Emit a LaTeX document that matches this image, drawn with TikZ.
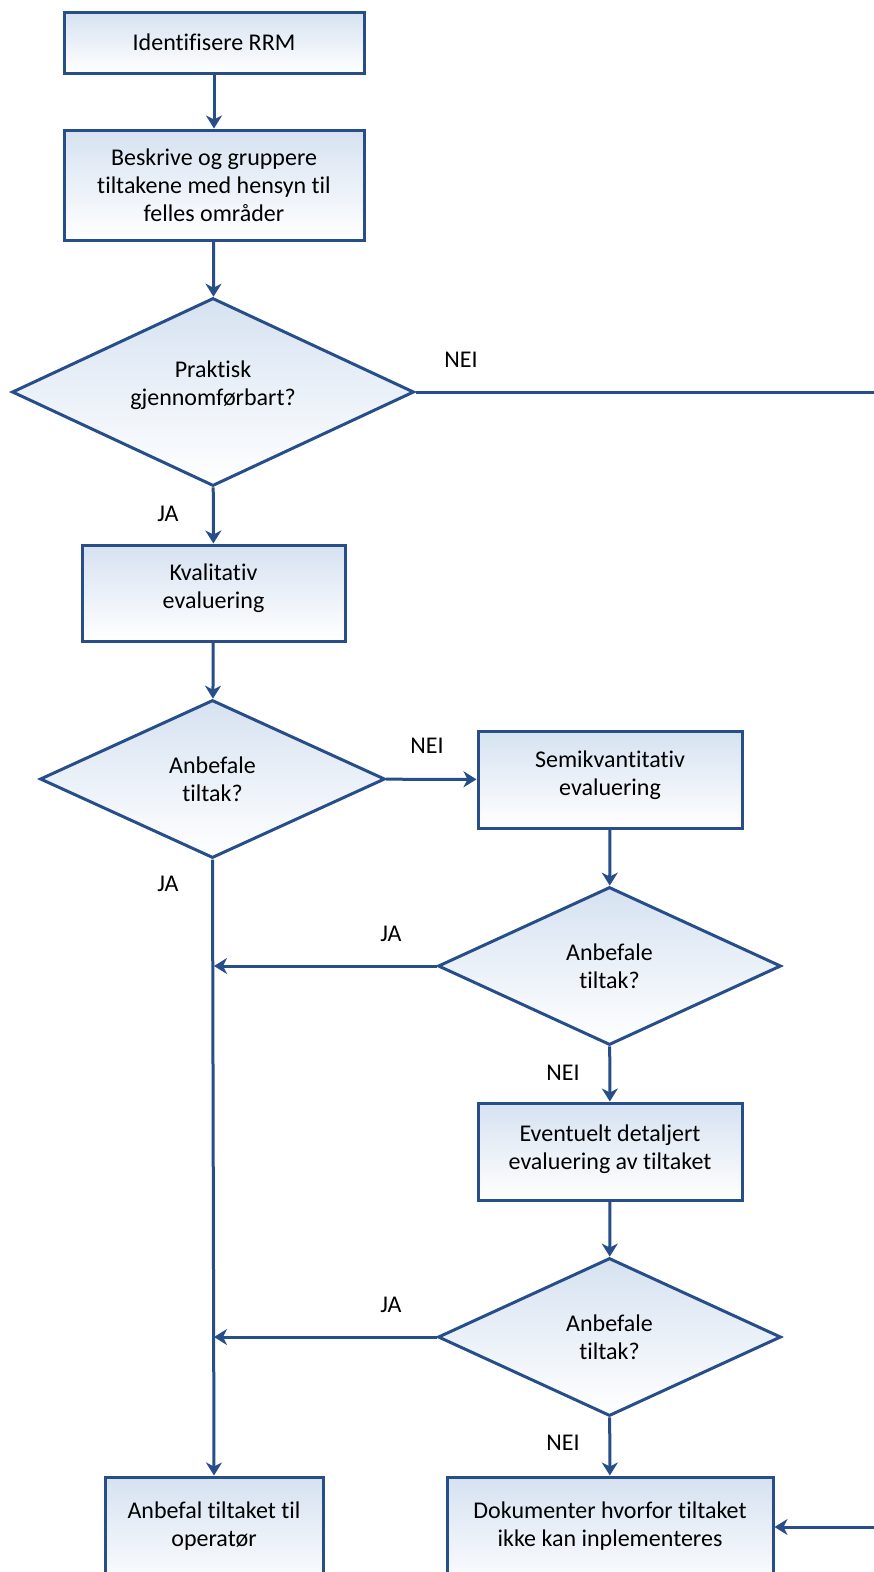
\documentclass[tikz,border=0pt]{standalone}
\usepackage{fontspec}
\setmainfont{Carlito}[Ligatures = NoCommon]
\usetikzlibrary{shapes.geometric, arrows.meta}

\definecolor{flowline}{RGB}{40,78,138}
\definecolor{flowtop}{RGB}{214,226,241}

\begin{document}
\begin{tikzpicture}[x = 1pt, y = -1pt,
    box/.style = {draw = flowline, line width = 3pt, top color = flowtop,
                  bottom color = white, align = center, inner sep = 0pt,
                  font = \fontsize{24}{28}\selectfont},
    choice/.style = {box, diamond, aspect = 2.15},
    line/.style = {draw = flowline, line width = 3pt},
    arrow/.style = {line, -{Stealth[length = 13pt, width = 16pt, inset = 4pt]}},
    answer/.style = {font = \fontsize{24}{28}\selectfont, inner sep = 0pt}]

\path[use as bounding box, clip] (0, 0) rectangle (874, 1572);

% left column
\node[box, minimum width = 300, minimum height = 61] (identify) at (214, 42.5) {Identifisere RRM};
\node[box, minimum width = 300, minimum height = 110] (describe) at (214, 185)
  {Beskrive og gruppere\\tiltakene med hensyn til\\felles områder};
\node[choice, minimum width = 402, minimum height = 188] (practical) at (213, 392)
  {Praktisk\\gjennomførbart?\\[-10pt]};
\node[box, minimum width = 263, minimum height = 96] (quality) at (213.5, 593)
  {Kvalitativ\\evaluering\\[-15pt]};
\node[choice, minimum width = 345, minimum height = 158] (choice1) at (212.5, 779)
  {Anbefale\\tiltak?};

% right column
\node[box, minimum width = 264, minimum height = 97] (semi) at (610, 779.5)
  {Semikvantitativ\\evaluering\\[-16pt]};
\node[choice, minimum width = 343, minimum height = 158] (choice2) at (609.5, 966)
  {Anbefale\\tiltak?};
\node[box, minimum width = 264, minimum height = 97] (detail) at (610, 1151.5)
  {Eventuelt detaljert\\evaluering av tiltaket\\[-20pt]};
\node[choice, minimum width = 343, minimum height = 158] (choice3) at (609.5, 1337)
  {Anbefale\\tiltak?};

% bottom row
\node[box, minimum width = 218, minimum height = 116] (recommend) at (214, 1535)
  {Anbefal tiltaket til\\operatør\\[-7pt]};
\node[box, minimum width = 326, minimum height = 116] (document) at (610, 1535)
  {Dokumenter hvorfor tiltaket\\ikke kan inplementeres\\[-7pt]};

\coordinate (outer top) at (900, 392);
\coordinate (outer bottom) at (900, 1527);

% labels
\node[answer] (no1) at (461, 360) {NEI};
\node[answer] (yes1) at (168, 514) {JA};
\node[answer] (no2) at (427, 746) {NEI};
\node[answer] (yes2) at (168, 884) {JA};
\node[answer] (yes3) at (391, 934) {JA};
\node[answer] (no3) at (563, 1073) {NEI};
\node[answer] (yes4) at (391, 1305) {JA};
\node[answer] (no4) at (563, 1443) {NEI};

% connectors
\draw[arrow] (identify) -- (describe);
\draw[arrow] (describe) -- (practical);
\draw[arrow] (practical) -- (quality);
\draw[arrow] (quality) -- (choice1);
\draw[arrow] (choice1) -- (semi);
\draw[arrow] (semi) -- (choice2);
\draw[arrow] (choice2) -- (detail);
\draw[arrow] (detail) -- (choice3);
\draw[arrow] (choice3) -- (document);
\draw[arrow] (choice1.south) -- (recommend.north);
\draw[arrow] (choice2.west) -- (choice2.west -| recommend.north);
\draw[arrow] (choice3.west) -- (choice3.west -| recommend.north);
\draw[arrow] (practical.east) -- (outer top) -- (outer bottom) -- (outer bottom -| document.east);

\end{tikzpicture}
\end{document}
